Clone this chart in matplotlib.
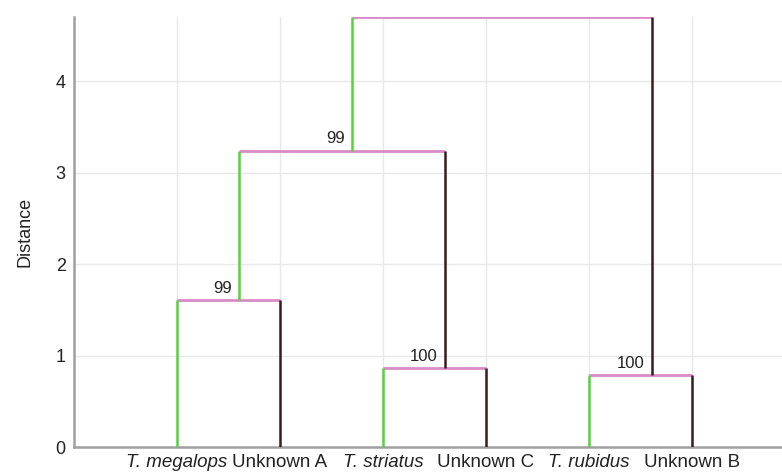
import matplotlib.pyplot as plt

plt.rcParams['font.family'] = ['Liberation Sans', 'DejaVu Sans']

# leaves of the tree, left to right
leaf_names = ['T. megalops', 'Unknown A', 'T. striatus', 'Unknown C', 'T. rubidus', 'Unknown B']
leaf_italic = [True, False, True, False, True, False]
leaf_x = [1, 2, 3, 4, 5, 6]

# internal nodes (ids 6..10): children, merge height, stem position, bootstrap support
node_left = [0, 2, 4, 6, 9]
node_right = [1, 3, 5, 7, 8]
node_height = [1.61, 0.86, 0.79, 3.24, 4.70]
node_stem_x = [1.60, 3.60, 5.61, 2.70, None]
node_support = [99, 100, 100, 99, None]

GREEN = '#55d43a'
DARK = '#3b1c1e'
PINK = '#d88cc6'

fig = plt.figure(figsize=(7.82, 4.73), dpi=100)
ax = fig.add_axes([74 / 782, 26 / 473, 721 / 782, 430 / 473])

n_leaves = len(leaf_names)
pos_x = list(leaf_x) + list(node_stem_x)
pos_y = [0.0] * n_leaves + list(node_height)

for i in range(len(node_height)):
    l, r, h = node_left[i], node_right[i], node_height[i]
    xl, xr = pos_x[l], pos_x[r]
    ax.plot([xl, xl], [pos_y[l], h], color=GREEN, lw=1.8, solid_capstyle='butt', zorder=3)
    ax.plot([xr, xr], [pos_y[r], h], color=DARK, lw=1.8, solid_capstyle='butt', zorder=3)
    ax.plot([xl, xr], [h, h], color=PINK, lw=2.0, solid_capstyle='butt', zorder=2)
    if node_support[i] is not None:
        ax.annotate(str(node_support[i]), (node_stem_x[i], h), xytext=(-5, 3),
                    textcoords='offset points', ha='right', va='bottom',
                    fontsize=12, color='#222222')

ax.set_xlim(0, 7)
ax.set_ylim(0, 4.7)
ax.set_xticks(leaf_x)
ax.set_xticklabels(leaf_names)
for lab, it in zip(ax.get_xticklabels(), leaf_italic):
    lab.set_fontstyle('italic' if it else 'normal')
ax.set_yticks([0, 1, 2, 3, 4])
ax.tick_params(axis='both', length=0, colors='#222222')
ax.tick_params(axis='x', pad=5, labelsize=13.5)
ax.tick_params(axis='y', pad=6, labelsize=13)
ax.set_ylabel('Distance', fontsize=13, color='#222222', labelpad=16)

ax.grid(True, color='#e8e8e8', lw=1.0, zorder=0)
ax.set_axisbelow(True)
for side in ['top', 'right']:
    ax.spines[side].set_visible(False)
for side in ['left', 'bottom']:
    ax.spines[side].set_color('#a0a0a0')
    ax.spines[side].set_linewidth(1.8)

fig.savefig('out.png', dpi=100)
